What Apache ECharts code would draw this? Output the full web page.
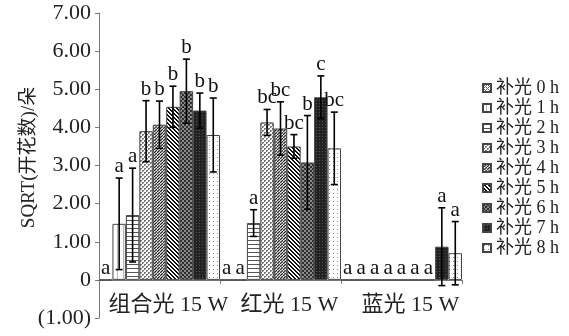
<!DOCTYPE html>
<html>
<head>
<meta charset="utf-8">
<script src="https://cdn.jsdelivr.net/npm/echarts@6/dist/echarts.min.js"></script>
<style>
  html, body { margin: 0; padding: 0; background: #fff; }
  #chart { width: 569px; height: 336px; }
</style>
</head>
<body>
<div id="chart"></div>
<script>
// Light treatments and supplementary lighting durations
const categories = ['组合光 15 W', '红光 15 W', '蓝光 15 W'];
const hourNames = ['补光 0 h', '补光 1 h', '补光 2 h', '补光 3 h', '补光 4 h',
                   '补光 5 h', '补光 6 h', '补光 7 h', '补光 8 h'];

// Mean SQRT(flower count) per duration, one array per light treatment
const meanCombined = [0, 1.47, 1.70, 3.90, 4.07, 4.54, 4.95, 4.44, 3.80];
const meanRed      = [0, 0, 1.49, 4.13, 3.97, 3.50, 3.08, 4.79, 3.45];
const meanBlue     = [0, 0, 0, 0, 0, 0, 0, 0.87, 0.70];

// Standard deviations
const sdCombined = [0, 1.20, 1.23, 0.80, 0.62, 0.54, 0.84, 0.46, 0.97];
const sdRed      = [0, 0, 0.35, 0.34, 0.70, 0.31, 1.23, 0.56, 0.95];
const sdBlue     = [0, 0, 0, 0, 0, 0, 0, 1.02, 0.83];

// Significance letters
const lettersCombined = ['a', 'a', 'a', 'b', 'b', 'b', 'b', 'b', 'b'];
const lettersRed      = ['a', 'a', 'a', 'bc', 'bc', 'bc', 'b', 'c', 'bc'];
const lettersBlue     = ['a', 'a', 'a', 'a', 'a', 'a', 'a', 'a', 'a'];

const yTicks = [-1, 0, 1, 2, 3, 4, 5, 6, 7];

const means = [meanCombined, meanRed, meanBlue];
const sds = [sdCombined, sdRed, sdBlue];
const letters = [lettersCombined, lettersRed, lettersBlue];

const SERIF = '"Liberation Serif", "Times New Roman", "Noto Sans CJK SC", serif';

// Hatch / texture fills, drawn on small canvases
function tile(w, h, draw) {
  const c = document.createElement('canvas');
  c.width = w; c.height = h;
  const g = c.getContext('2d');
  g.fillStyle = '#fff';
  g.fillRect(0, 0, w, h);
  draw(g);
  return { image: c, repeat: 'repeat' };
}
function px(g, color, pts) {
  g.fillStyle = color;
  pts.forEach(p => g.fillRect(p[0], p[1], 1, 1));
}
const fills = [
  // 0 h: cross hatch
  tile(4, 4, g => px(g, '#666', [[0,0],[2,2],[1,1],[3,3],[3,1],[1,3]])),
  // 1 h: sparse vertical lines
  tile(6, 4, g => { g.fillStyle = '#bbb'; g.fillRect(3, 0, 1, 4); }),
  // 2 h: horizontal stripes
  tile(4, 4, g => { g.fillStyle = '#555'; g.fillRect(0, 0, 4, 1); }),
  // 3 h: fine checker
  tile(4, 4, g => { g.fillStyle = '#777'; g.fillRect(0, 0, 2, 2); g.fillRect(2, 2, 2, 2); g.fillStyle = '#ccc'; g.fillRect(1, 1, 1, 1); g.fillRect(3, 3, 1, 1); }),
  // 4 h: dense stipple
  tile(3, 3, g => { g.fillStyle = '#999'; g.fillRect(0, 0, 3, 3); px(g, '#333', [[0,0],[2,1],[1,2]]); px(g, '#eee', [[1,0],[0,2]]); }),
  // 5 h: diagonal stripes
  tile(4, 4, g => px(g, '#111', [[0,0],[1,1],[2,2],[3,3],[1,0],[2,1],[3,2],[0,3]])),
  // 6 h: dark checker
  tile(4, 4, g => { g.fillStyle = '#8a8a8a'; g.fillRect(0, 0, 4, 4); g.fillStyle = '#2e2e2e'; g.fillRect(0, 0, 2, 2); g.fillRect(2, 2, 2, 2); }),
  // 7 h: near black
  tile(3, 3, g => { g.fillStyle = '#222'; g.fillRect(0, 0, 3, 3); px(g, '#505050', [[1,1]]); }),
  // 8 h: sparse dots
  tile(4, 4, g => px(g, '#888', [[1,1]]))
];

const barSeries = hourNames.map((name, h) => ({
  name: name,
  type: 'bar',
  barGap: '0%',
  barCategoryGap: '0%',
  data: means.map(m => m[h]),
  itemStyle: { color: fills[h], borderColor: '#444', borderWidth: 1 },
  emphasis: { disabled: true },
  z: 2
}));

// Error bars and letters: one item per (treatment, duration)
const errData = [];
const errLetters = [];
means.forEach((m, c) => {
  m.forEach((v, h) => {
    errData.push([c, h, v, sds[c][h]]);
    errLetters.push(letters[c][h]);
  });
});

const errSeries = {
  type: 'custom',
  name: 'err',
  data: errData,
  encode: { x: 0, y: 2 },
  z: 5,
  silent: true,
  renderItem: function (params, api) {
    const c = api.value(0), h = api.value(1), v = api.value(2), sd = api.value(3);
    const center = api.coord([c, 0]);
    const band = api.size([1, 0])[0];
    const bw = band / hourNames.length;
    const x = center[0] + (h - (hourNames.length - 1) / 2) * bw;
    const children = [];
    let labelY = center[1] - 1;
    if (sd > 0) {
      const yt = api.coord([c, v + sd])[1];
      const yb = api.coord([c, v - sd])[1];
      const cap = 3.5;
      const st = { stroke: '#000', lineWidth: 1.6 };
      children.push({ type: 'line', shape: { x1: x, y1: yt, x2: x, y2: yb }, style: st });
      children.push({ type: 'line', shape: { x1: x - cap, y1: yt, x2: x + cap, y2: yt }, style: st });
      children.push({ type: 'line', shape: { x1: x - cap, y1: yb, x2: x + cap, y2: yb }, style: st });
      labelY = yt - 1;
    } else if (v > 0) {
      labelY = api.coord([c, v])[1] - 1;
    }
    children.push({
      type: 'text',
      x: x, y: labelY,
      style: {
        text: errLetters[params.dataIndex],
        fill: '#111',
        font: '21px ' + SERIF,
        align: 'center',
        verticalAlign: 'bottom'
      }
    });
    return { type: 'group', children: children };
  }
};

const chart = echarts.init(document.getElementById('chart'), null, { renderer: 'canvas' });
chart.setOption({
  animation: false,
  backgroundColor: '#fff',
  grid: { left: 99, right: 107, top: 13, bottom: 18, containLabel: false },
  legend: {
    data: hourNames,
    orient: 'vertical',
    left: 477,
    top: 74,
    itemWidth: 8,
    itemHeight: 8,
    itemGap: 2,
    icon: 'rect',
    textStyle: { fontSize: 18, fontFamily: SERIF, color: '#222' },
    selectedMode: false
  },
  xAxis: {
    type: 'category',
    data: categories,
    axisLine: { show: true, onZero: true, lineStyle: { color: '#777', width: 1 } },
    axisTick: { show: true, length: 4, lineStyle: { color: '#777' } },
    axisLabel: { fontSize: 22, fontFamily: SERIF, color: '#222', margin: -24, padding: [0, 0, 0, 18], interval: 0 },
    splitLine: { show: false }
  },
  yAxis: {
    type: 'value',
    min: yTicks[0],
    max: yTicks[yTicks.length - 1],
    interval: 1,
    name: 'SQRT(开花数)/朵',
    nameLocation: 'middle',
    nameGap: 60,
    nameMoveOverlap: false,
    nameTextStyle: { fontSize: 19, fontFamily: SERIF, color: '#222', padding: [0, 0, 0, 16] },
    axisLine: { show: true, lineStyle: { color: '#777', width: 1 } },
    axisTick: { show: true, length: 4, lineStyle: { color: '#777' } },
    axisLabel: {
      fontSize: 22, fontFamily: SERIF, color: '#222', margin: 8,
      formatter: function (v) {
        if (v === 0) return '0';
        if (v < 0) return '(' + Math.abs(v).toFixed(2) + ')';
        return v.toFixed(2);
      }
    },
    splitLine: { show: false }
  },
  series: barSeries.concat([errSeries])
});
</script>
</body>
</html>
